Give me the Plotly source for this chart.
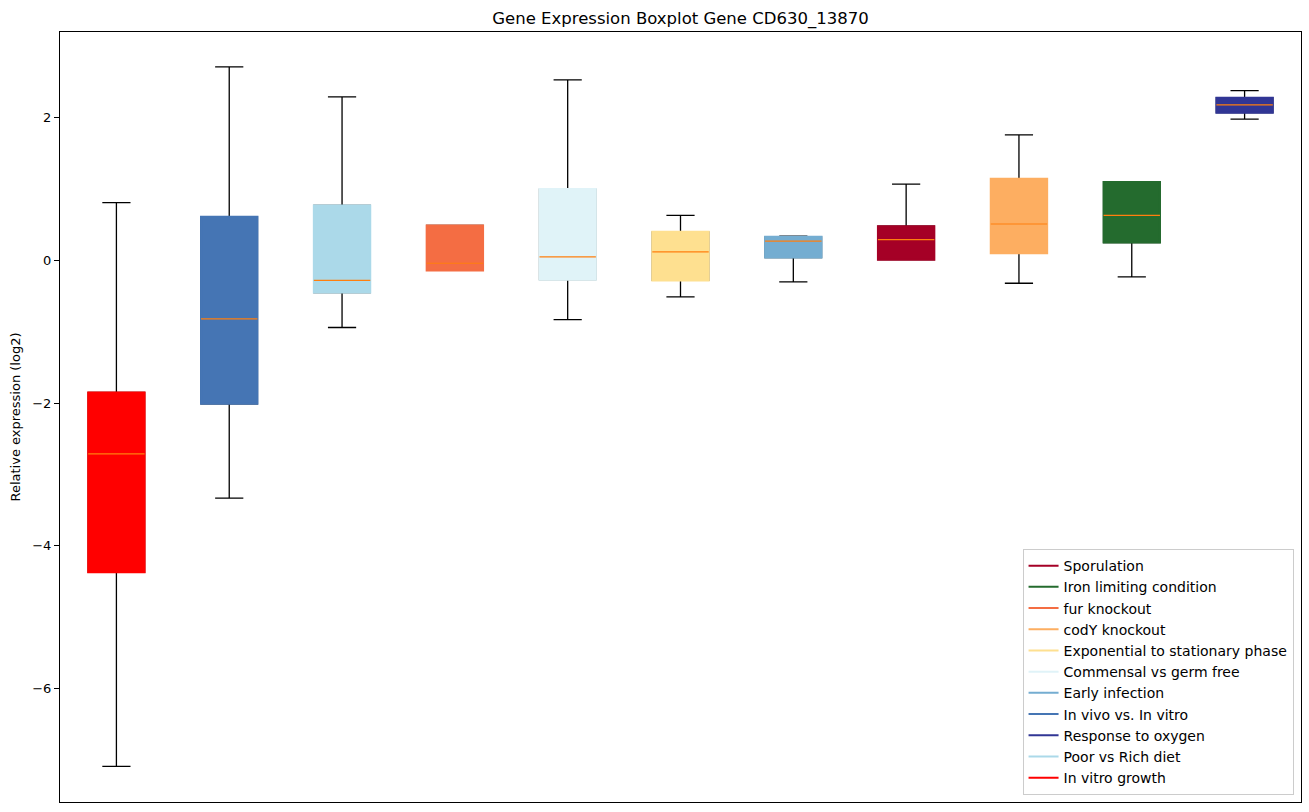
import plotly.graph_objects as go

groups = ["In vitro growth", "In vivo vs. In vitro", "Poor vs Rich diet", "fur knockout",
          "Commensal vs germ free", "Exponential to stationary phase", "Early infection",
          "Sporulation", "codY knockout", "Iron limiting condition", "Response to oxygen"]
colors = ["#ff0000", "#4575b4", "#abd9e9", "#f46d43", "#e0f3f8", "#fee090", "#74add1",
          "#a50026", "#fdae61", "#246b2e", "#313695"]
q1 = [-4.37, -2.01, -0.45, -0.14, -0.27, -0.28, 0.04, 0.01, 0.10, 0.25, 2.07]
median = [-2.71, -0.82, -0.28, -0.04, 0.05, 0.12, 0.27, 0.29, 0.51, 0.63, 2.18]
q3 = [-1.85, 0.61, 0.77, 0.49, 1.00, 0.40, 0.33, 0.48, 1.145, 1.10, 2.28]
lower = [-7.09, -3.33, -0.94, -0.14, -0.83, -0.51, -0.30, 0.01, -0.32, -0.23, 1.98]
upper = [0.81, 2.71, 2.29, 0.49, 2.53, 0.63, 0.34, 1.07, 1.76, 1.10, 2.38]
legend_order = ["Sporulation", "Iron limiting condition", "fur knockout", "codY knockout",
                "Exponential to stationary phase", "Commensal vs germ free", "Early infection",
                "In vivo vs. In vitro", "Response to oxygen", "Poor vs Rich diet", "In vitro growth"]
yticks = [-6, -4, -2, 0, 2]
BOX_W = 0.5

fig = go.Figure()
for i, g in enumerate(groups):
    pos = [i + 1]
    # whiskers and caps
    fig.add_trace(go.Box(x=pos, q1=[q1[i]], median=[median[i]], q3=[q3[i]],
                         lowerfence=[lower[i]], upperfence=[upper[i]],
                         width=BOX_W, whiskerwidth=0.5, fillcolor="rgba(0,0,0,0)",
                         line=dict(color="black", width=1.3), showlegend=False,
                         hoverinfo="skip"))
    # filled box
    fig.add_trace(go.Box(x=pos, q1=[q1[i]], median=[median[i]], q3=[q3[i]],
                         lowerfence=[q1[i]], upperfence=[q3[i]],
                         width=BOX_W, whiskerwidth=0.5, fillcolor=colors[i],
                         line=dict(color=colors[i], width=2), showlegend=False,
                         hoverinfo="skip"))

# median lines (orange), drawn on top of the boxes
mx, my = [], []
for i, m in enumerate(median):
    p = i + 1
    mx += [p - BOX_W / 2, p + BOX_W / 2, None]
    my += [m, m, None]
fig.add_trace(go.Scatter(x=mx, y=my, mode="lines", line=dict(color="#ff7f0e", width=1.2),
                         showlegend=False, hoverinfo="skip"))

for name in legend_order:
    c = colors[groups.index(name)]
    fig.add_trace(go.Scatter(x=[None], y=[None], mode="lines", name=name,
                             line=dict(color=c, width=2)))

fig.update_layout(
    width=1309, height=812,
    boxmode="overlay",
    paper_bgcolor="white", plot_bgcolor="white",
    margin=dict(l=60, r=8, t=32, b=10, autoexpand=False),
    font=dict(family="DejaVu Sans", size=13, color="black"),
    title=dict(text="Gene Expression Boxplot Gene CD630_13870", x=(60 + 1301) / 2 / 1309,
               xanchor="center", y=1 - 18 / 812, yanchor="middle",
               font=dict(size=16.5, color="black")),
    xaxis=dict(range=[0.5, 11.5], showticklabels=False, ticks="", showgrid=False,
               zeroline=False, showline=True, linecolor="black", linewidth=1, mirror=True,
               automargin=False),
    yaxis=dict(range=[-7.588, 3.20], tickvals=yticks, ticks="outside", ticklen=5,
               tickcolor="black", tickwidth=1, showgrid=False, zeroline=False,
               showline=True, linecolor="black", linewidth=1, mirror=True,
               automargin=False,
               title=dict(text="Relative expression (log2)", standoff=8,
                          font=dict(size=13)),
               tickfont=dict(size=13)),
    legend=dict(x=0.994, y=0.009, xanchor="right", yanchor="bottom",
                bgcolor="white", bordercolor="#cccccc", borderwidth=1,
                font=dict(size=14), tracegroupgap=0),
    showlegend=True,
)

fig.write_html("out.html", config={"displayModeBar": False},
               post_script="document.body.style.margin='0';document.body.style.overflow='hidden';")
